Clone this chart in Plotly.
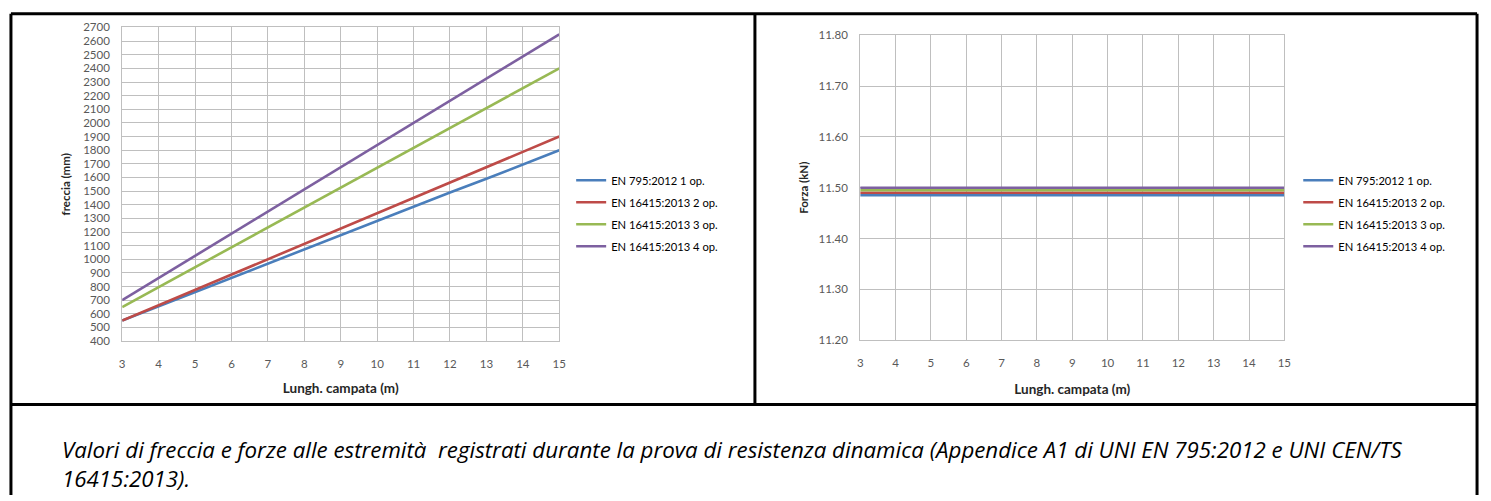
import plotly.graph_objects as go

W, H = 1491, 501

span_m = [3, 4, 5, 6, 7, 8, 9, 10, 11, 12, 13, 14, 15]
series_names = ["EN 795:2012 1 op.", "EN 16415:2013 2 op.", "EN 16415:2013 3 op.", "EN 16415:2013 4 op."]
colors = ["#4A7EBB", "#BE4B48", "#98B954", "#7D60A0"]

freccia_1op = [550, 655, 760, 865, 965, 1070, 1175, 1280, 1385, 1490, 1590, 1695, 1800]
freccia_2op = [550, 663, 775, 888, 1000, 1113, 1225, 1338, 1450, 1563, 1675, 1788, 1900]
freccia_3op = [650, 796, 942, 1088, 1233, 1379, 1525, 1671, 1817, 1963, 2108, 2254, 2400]
freccia_4op = [700, 863, 1025, 1188, 1350, 1513, 1675, 1838, 2000, 2163, 2325, 2488, 2650]

forza_1op = [11.485] * 13
forza_2op = [11.490] * 13
forza_3op = [11.495] * 13
forza_4op = [11.500] * 13

caption_line1 = ("Valori di freccia e forze alle estremità  registrati durante la prova di resistenza dinamica "
                 "(Appendice A1 di UNI EN 795:2012 e UNI CEN/TS")
caption_line2 = "16415:2013)."

FONT = "Lato"
CAP_FONT = "Open Sans"
TICK_COLOR = "#595959"
GRID = "#BFBFBF"


def px_x(p):
    return p / W


def px_y(p):
    return 1 - p / H


fig = go.Figure()

for name, vals, c in zip(series_names, [freccia_1op, freccia_2op, freccia_3op, freccia_4op], colors):
    fig.add_trace(go.Scatter(x=span_m, y=vals, mode="lines", name=name,
                             line=dict(color=c, width=2.6), xaxis="x", yaxis="y",
                             legend="legend", legendgroup=name + "a"))

for name, vals, c in zip(series_names, [forza_1op, forza_2op, forza_3op, forza_4op], colors):
    fig.add_trace(go.Scatter(x=span_m, y=vals, mode="lines", name=name,
                             line=dict(color=c, width=2.6), xaxis="x2", yaxis="y2",
                             legend="legend2", legendgroup=name + "b"))

axis_common = dict(showgrid=True, gridcolor=GRID, gridwidth=1, showline=True, linecolor=GRID,
                   linewidth=1, mirror=True, zeroline=False, ticks="",
                   tickfont=dict(family=FONT, size=11.5, color=TICK_COLOR))

title_font = dict(family=FONT, size=13.5, color="#262626")
ytitle_font = dict(family=FONT, size=11.5, color="#262626")
legend_font = dict(family=FONT, size=11.2, color="#000000")

fig.update_layout(
    width=W, height=H,
    margin=dict(l=0, r=0, t=0, b=0),
    paper_bgcolor="white", plot_bgcolor="white",
    font=dict(family=FONT, color="#000000"),
    xaxis=dict(domain=[px_x(120), px_x(560)], range=[3, 15], dtick=1, anchor="y",
               ticklabelstandoff=12,
               title=dict(text="<b>Lungh. campata (m)</b>", font=title_font, standoff=14),
               **axis_common),
    yaxis=dict(domain=[px_y(343), px_y(21)], range=[400, 2700], dtick=100, anchor="x",
               ticklabelstandoff=9,
               title=dict(text="<b>freccia (mm)</b>", font=ytitle_font, standoff=10),
               **axis_common),
    xaxis2=dict(domain=[px_x(863), px_x(1290)], range=[3, 15], dtick=1, anchor="y2",
                ticklabelstandoff=12,
                title=dict(text="<b>Lungh. campata (m)</b>", font=title_font, standoff=16),
                **axis_common),
    yaxis2=dict(domain=[px_y(342), px_y(29)], range=[11.2, 11.8], dtick=0.1, tickformat=".2f", anchor="x2",
                ticklabelstandoff=9,
                title=dict(text="<b>Forza (kN)</b>", font=ytitle_font, standoff=7),
                **axis_common),
    legend=dict(x=px_x(572), y=px_y(163), xanchor="left", yanchor="top",
                font=legend_font, tracegroupgap=3,
                bgcolor="rgba(0,0,0,0)", itemwidth=30),
    legend2=dict(x=px_x(1304), y=px_y(163), xanchor="left", yanchor="top",
                 font=legend_font, tracegroupgap=3,
                 bgcolor="rgba(0,0,0,0)", itemwidth=30),
)

# table borders
black = dict(color="black", width=3)
shapes = [
    dict(type="line", xref="paper", yref="paper", x0=px_x(8), x1=px_x(1484), y0=px_y(7), y1=px_y(7), line=black),
    dict(type="line", xref="paper", yref="paper", x0=px_x(8), x1=px_x(8), y0=px_y(7), y1=px_y(501), line=black),
    dict(type="line", xref="paper", yref="paper", x0=px_x(1484), x1=px_x(1484), y0=px_y(7), y1=px_y(501), line=black),
    dict(type="line", xref="paper", yref="paper", x0=px_x(757), x1=px_x(757), y0=px_y(7), y1=px_y(408), line=black),
    dict(type="line", xref="paper", yref="paper", x0=px_x(8), x1=px_x(1484), y0=px_y(408), y1=px_y(408), line=black),
]
fig.update_layout(shapes=shapes)

cap_font = dict(family=CAP_FONT, size=22.3, color="#000000")
fig.add_annotation(x=px_x(58), y=px_y(469), xref="paper", yref="paper", xanchor="left", yanchor="middle",
                   text="<i>" + caption_line1 + "<br>" + caption_line2 + "</i>",
                   showarrow=False, align="left", font=cap_font, borderpad=0)

fig.write_html("out.html",
               config={"displayModeBar": False},
               post_script="document.body.style.margin='0';document.body.style.padding='0';document.body.style.overflow='hidden';")
